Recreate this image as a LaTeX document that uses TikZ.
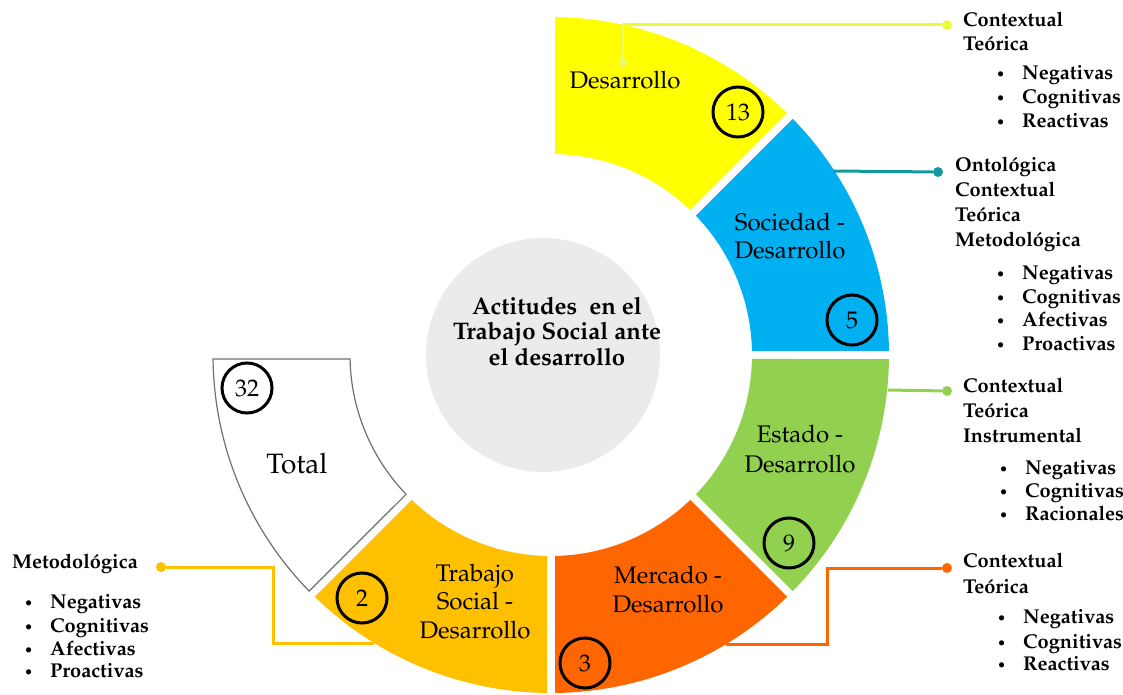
\documentclass[tikz,border=0pt]{standalone}
\usepackage[T1]{fontenc}
\usepackage{palatino}
\definecolor{cyel}{HTML}{FFFF00}
\definecolor{cblue}{HTML}{00B0F0}
\definecolor{cgreen}{HTML}{92D050}
\definecolor{corange}{HTML}{FF6600}
\definecolor{cgold}{HTML}{FFC000}
\definecolor{chub}{HTML}{EBEBEB}
\definecolor{lyel}{HTML}{E8FA3C}
\definecolor{lyelv}{HTML}{EEF878}
\definecolor{lteal}{HTML}{12999F}
\definecolor{cgray}{HTML}{707070}
\newcommand\ringsector[3]{%
  \path[#3] ({#1+0.68}:338) arc[start angle={#1+0.68}, end angle={#2-0.68}, radius=338pt]
    -- ({#2-1.14}:201) arc[start angle={#2-1.14}, end angle={#1+1.14}, radius=201pt] -- cycle;}
\newcommand\smallbullet{{\normalfont\fontsize{15}{15}\selectfont\textbullet}}
\begin{document}
\begin{tikzpicture}[x=1pt,y=1pt,
  seglab/.style={anchor=base, inner sep=0pt, font=\fontsize{24}{28}\selectfont},
  ctr/.style={anchor=base, inner sep=0pt, font=\bfseries\fontsize{24}{28}\selectfont},
  numc/.style={circle, draw=black, line width=3pt, minimum size=50pt, inner sep=0pt, font=\fontsize{24}{24}\selectfont},
  head/.style={anchor=base west, inner sep=0pt, font=\bfseries\fontsize{20}{24}\selectfont},
  item/.style={anchor=base west, inner sep=0pt, font=\bfseries\fontsize{20}{24}\selectfont,
     execute at begin node={\llap{\smallbullet\hspace{17pt}}}},
  conn/.style={line width=3pt},
  dot/.style={circle, inner sep=0pt, minimum size=10pt}]
\useasboundingbox (0,0) rectangle (1123,694);
\begin{scope}[shift={(0,694)}]
  % hub
  \node[circle, fill=chub, minimum size=234pt, inner sep=0pt] (hub) at (543,-355) {};
  % ring
  \begin{scope}[shift={(551,-355)}]
    \ringsector{45}{90}{fill=cyel}
    \ringsector{0}{45}{fill=cblue}
    \ringsector{-45}{0}{fill=cgreen}
    \ringsector{-90}{-45}{fill=corange}
    \ringsector{-135}{-90}{fill=cgold}
    \ringsector{-180}{-135}{fill=white, draw=cgray, line width=1.2pt}
  \end{scope}
  % centre text
  \node[ctr] (c1) at (557,-315) {Actitudes\ \ en el};
  \node[ctr] (c2) at (557,-340) {Trabajo Social ante};
  \node[ctr] (c3) at (557,-365) {el desarrollo};
  % segment labels
  \node[seglab] (ly) at (625,-89) {Desarrollo};
  \node[seglab] (lb1) at (790,-231) {Sociedad -};
  \node[seglab] (lb2) at (790,-259) {Desarrollo};
  \node[seglab] (lg1) at (800,-442) {Estado -};
  \node[seglab] (lg2) at (800,-472) {Desarrollo};
  \node[seglab] (lo1) at (668,-583) {Mercado -};
  \node[seglab] (lo2) at (668,-612) {Desarrollo};
  \node[seglab] (lt1) at (475,-581) {Trabajo};
  \node[seglab] (lt2) at (475,-609) {Social -};
  \node[seglab] (lt3) at (475,-638) {Desarrollo};
  \node[seglab, font=\fontsize{28}{30}\selectfont] (ltot) at (297,-473) {Total};
  % number circles
  \node[numc] (n13) at (738,-112) {13};
  \node[numc] (n5) at (852,-320) {5};
  \node[numc] (n9) at (789,-543) {9};
  \node[numc] (n3) at (585,-663) {3};
  \node[numc] (n2) at (362,-598) {2};
  \node[numc] (n32) at (247,-388) {32};
  % connectors
  \coordinate (ys) at (623,-25);
  \coordinate (yv) at (623,-63);
  \node[dot, fill=lyel] (dy) at (947,-25) {};
  \draw[conn, lyel] (ys) -- (dy);
  \draw[line width=2.5pt, lyelv] (ys) -- (yv);
  \fill[lyelv] (yv) circle (4);
  \coordinate (bs) at (833,-171);
  \node[dot, fill=lteal] (db) at (938,-172) {};
  \draw[conn, lteal] (bs) -- (db);
  \coordinate (gs) at (888,-390);
  \node[dot, fill=cgreen] (dg) at (947,-391) {};
  \draw[conn, cgreen] (gs) -- (dg);
  \coordinate (os) at (726,-644);
  \node[dot, fill=corange] (do) at (947,-568) {};
  \draw[conn, corange] (os) -- (827,-644) -- (827,-568) -- (do);
  \coordinate (ts) at (374,-643);
  \node[dot, fill=cgold] (dt) at (161,-567) {};
  \draw[conn, cgold] (dt) -- (273,-567) -- (273,-643) -- (ts);
  % block 1
  \node[head] (h11) at (963,-27) {Contextual};
  \node[head] (h12) at (963,-51) {Te\'orica};
  \node[item] (i11) at (1022,-80) {Negativas};
  \node[item] (i12) at (1022,-104) {Cognitivas};
  \node[item] (i13) at (1022,-128) {Reactivas};
  % block 2
  \node[head] (h21) at (955,-172) {Ontol\'ogica};
  \node[head] (h22) at (955,-197) {Contextual};
  \node[head] (h23) at (955,-222) {Te\'orica};
  \node[head] (h24) at (955,-247) {Metodol\'ogica};
  \node[item] (i21) at (1022,-280) {Negativas};
  \node[item] (i22) at (1022,-304) {Cognitivas};
  \node[item] (i23) at (1022,-327) {Afectivas};
  \node[item] (i24) at (1022,-351) {Proactivas};
  % block 3
  \node[head] (h31) at (963,-392) {Contextual};
  \node[head] (h32) at (963,-417) {Te\'orica};
  \node[head] (h33) at (963,-442) {Instrumental};
  \node[item] (i31) at (1025,-474) {Negativas};
  \node[item] (i32) at (1025,-497) {Cognitivas};
  \node[item] (i33) at (1025,-520) {Racionales};
  % block 4
  \node[head] (h41) at (963,-567) {Contextual};
  \node[head] (h42) at (963,-593) {Te\'orica};
  \node[item] (i41) at (1023,-623) {Negativas};
  \node[item] (i42) at (1023,-648) {Cognitivas};
  \node[item] (i43) at (1023,-670) {Reactivas};
  % left block
  \node[head] (h51) at (12,-568) {Metodol\'ogica};
  \node[item] (i51) at (50,-608) {Negativas};
  \node[item] (i52) at (50,-632) {Cognitivas};
  \node[item] (i53) at (50,-655) {Afectivas};
  \node[item] (i54) at (50,-677) {Proactivas};
\end{scope}
\end{tikzpicture}
\end{document}
